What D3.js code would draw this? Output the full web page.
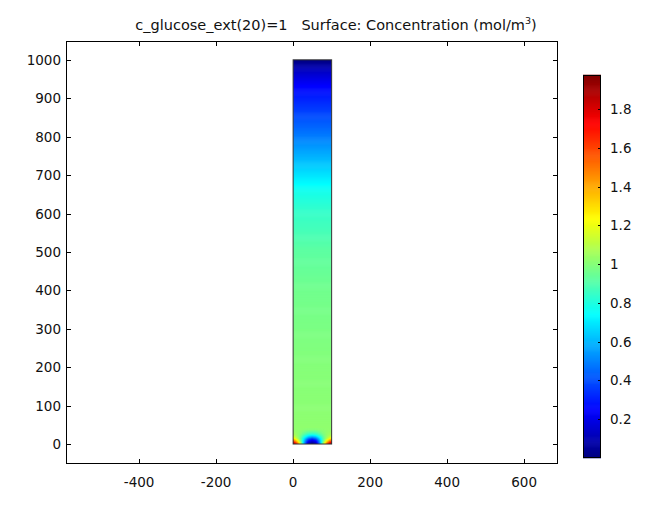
<!DOCTYPE html>
<html><head><meta charset="utf-8">
<script src="https://cdn.jsdelivr.net/npm/d3@7"></script>
<style>body{margin:0;background:#fff}svg{display:block}text{font-family:"DejaVu Sans",sans-serif;fill:#111}</style>
</head><body><svg id="c" width="657" height="511"></svg>
<script>
// ---- data ----
const titleLeft = "c_glucose_ext(20)=1";
const titleRight = "Surface: Concentration (mol/m";
const xTicks = [-400, -200, 0, 200, 400, 600];
const yTicks = [0, 100, 200, 300, 400, 500, 600, 700, 800, 900, 1000];
const cbTicks = [0.2, 0.4, 0.6, 0.8, 1, 1.2, 1.4, 1.6, 1.8];
const xDomain = [-590, 688];
const yDomain = [-52, 1049];
const cDomain = [0.0, 1.975];
const domainX = [0, 100];
const domainY = [0, 1000];
// vertical concentration profile (y in um, c in mol/m3), above the bottom zone
const profY = [40, 100, 200, 300, 400, 505, 550, 609, 650, 672, 700, 750, 800, 850, 900, 932, 950, 975, 990, 1000];
const profC = [1.02, 1.01, 1.0, 0.98, 0.96, 0.92, 0.88, 0.84, 0.79, 0.75, 0.69, 0.59, 0.49, 0.4, 0.31, 0.25, 0.2, 0.12, 0.05, 0.0];
// bottom zone grid (rows = gridY, columns = gridX)
const gridX = [0, 10, 20, 30, 40, 50, 60, 70, 80, 90, 100];
const gridY = [0, 5, 10, 15, 20, 25, 30, 40];
const gridC = [
  [1.95, 1.7, 1.15, 0.55, 0.12, 0.02, 0.12, 0.55, 1.15, 1.7, 1.95],
  [1.8, 1.5, 1.05, 0.55, 0.17, 0.08, 0.17, 0.55, 1.05, 1.5, 1.8],
  [1.55, 1.3, 0.97, 0.6, 0.28, 0.18, 0.28, 0.6, 0.97, 1.3, 1.55],
  [1.3, 1.13, 0.94, 0.68, 0.45, 0.35, 0.45, 0.68, 0.94, 1.13, 1.3],
  [1.15, 1.06, 0.95, 0.79, 0.64, 0.58, 0.64, 0.79, 0.95, 1.06, 1.15],
  [1.08, 1.04, 0.98, 0.88, 0.8, 0.77, 0.8, 0.88, 0.98, 1.04, 1.08],
  [1.05, 1.03, 1.0, 0.95, 0.9, 0.89, 0.9, 0.95, 1.0, 1.03, 1.05],
  [1.02, 1.02, 1.02, 1.02, 1.02, 1.02, 1.02, 1.02, 1.02, 1.02, 1.02]
];
const jetStops = [0, 0.125, 0.375, 0.625, 0.875, 1];
const jetColors = ["#00007f", "#0000ff", "#00ffff", "#ffff00", "#ff0000", "#7f0000"];

// ---- drawing ----
const svg = d3.select("#c");
const x = d3.scaleLinear().domain(xDomain).range([66, 558]);
const y = d3.scaleLinear().domain(yDomain).range([464, 41]);
const jet = d3.scaleLinear().domain(jetStops).range(jetColors).clamp(true);
const cNorm = d3.scaleLinear().domain(cDomain).range([0, 1]).clamp(true);
const color = v => jet(cNorm(v));

svg.append("defs").append("clipPath").attr("id", "bar")
  .append("rect").attr("x", x(domainX[0])).attr("y", y(domainY[1]))
  .attr("width", x(domainX[1]) - x(domainX[0])).attr("height", y(domainY[0]) - y(domainY[1]));
const field = svg.append("g").attr("clip-path", "url(#bar)");

// upper profile rows
const prof = d3.scaleLinear().domain(profY).range(profC);
const dyU = 2.5;
const rows = d3.range(40, 1000, dyU);
field.selectAll("rect.u").data(rows).join("rect").attr("class", "u")
  .attr("x", x(0)).attr("width", x(100) - x(0))
  .attr("y", d => y(d + dyU) - 0.3).attr("height", d => y(d) - y(d + dyU) + 0.6)
  .attr("fill", d => color(prof(d + dyU / 2)));

// bottom zone: bilinear interpolation of grid
function bil(px, py) {
  let i = d3.bisectRight(gridX, px) - 1; i = Math.max(0, Math.min(gridX.length - 2, i));
  let j = d3.bisectRight(gridY, py) - 1; j = Math.max(0, Math.min(gridY.length - 2, j));
  const tx = (px - gridX[i]) / (gridX[i + 1] - gridX[i]);
  const ty = (py - gridY[j]) / (gridY[j + 1] - gridY[j]);
  const a = gridC[j][i] * (1 - tx) + gridC[j][i + 1] * tx;
  const b = gridC[j + 1][i] * (1 - tx) + gridC[j + 1][i + 1] * tx;
  return a * (1 - ty) + b * ty;
}
const dc = 2;
const cells = [];
for (const cy of d3.range(0, 40, dc)) for (const cx of d3.range(0, 100, dc)) cells.push([cx, cy]);
field.selectAll("rect.b").data(cells).join("rect").attr("class", "b")
  .attr("x", d => x(d[0]) - 0.3).attr("width", d => x(d[0] + dc) - x(d[0]) + 0.6)
  .attr("y", d => y(d[1] + dc) - 0.3).attr("height", d => y(d[1]) - y(d[1] + dc) + 0.6)
  .attr("fill", d => color(bil(d[0] + dc / 2, d[1] + dc / 2)));

svg.append("rect").attr("x", x(0)).attr("y", y(1000))
  .attr("width", x(100) - x(0)).attr("height", y(0) - y(1000))
  .attr("fill", "none").attr("stroke", "#333").attr("stroke-width", 1);

// frame & axes
const fs = 13.5;
const frame = svg.append("g");
frame.append("rect").attr("x", 66.5).attr("y", 41.5).attr("width", 491).attr("height", 422)
  .attr("fill", "none").attr("stroke", "#000").attr("stroke-width", 1);
const tl = 5;
xTicks.forEach(t => {
  const px = Math.round(x(t)) + 0.5;
  frame.append("line").attr("x1", px).attr("x2", px).attr("y1", 464).attr("y2", 464 - tl).attr("stroke", "#000");
  frame.append("line").attr("x1", px).attr("x2", px).attr("y1", 41).attr("y2", 41 + tl).attr("stroke", "#000");
  frame.append("text").attr("x", x(t)).attr("y", 487).attr("text-anchor", "middle").attr("font-size", fs).text(t);
});
yTicks.forEach(t => {
  const py = Math.round(y(t)) + 0.5;
  frame.append("line").attr("x1", 66).attr("x2", 66 + tl).attr("y1", py).attr("y2", py).attr("stroke", "#000");
  frame.append("line").attr("x1", 558).attr("x2", 558 - tl).attr("y1", py).attr("y2", py).attr("stroke", "#000");
  frame.append("text").attr("x", 61).attr("y", y(t) + 5).attr("text-anchor", "end").attr("font-size", fs).text(t);
});

// title
const tt = svg.append("text").attr("x", 336).attr("y", 30).attr("text-anchor", "middle").attr("font-size", 14.5);
tt.append("tspan").text(titleLeft + "\u00a0\u00a0\u00a0" + titleRight);
tt.append("tspan").attr("font-size", 9.5).attr("dy", -6).text("3");
tt.append("tspan").attr("dy", 6).text(")");

// colorbar
const cb = d3.scaleLinear().domain(cDomain).range([458, 75]);
const cbX = 583, cbW = 18;
const steps = d3.range(cDomain[0], cDomain[1], 0.005);
svg.append("g").selectAll("rect").data(steps).join("rect")
  .attr("x", cbX).attr("width", cbW)
  .attr("y", d => cb(d + 0.005) - 0.3).attr("height", d => cb(d) - cb(d + 0.005) + 0.6)
  .attr("fill", d => color(d + 0.0025));
svg.append("rect").attr("x", cbX + 0.5).attr("y", 75.5).attr("width", cbW - 1).attr("height", 382)
  .attr("fill", "none").attr("stroke", "#000").attr("stroke-width", 1);
cbTicks.forEach(t => {
  const py = Math.round(cb(t)) + 0.5;
  svg.append("line").attr("x1", cbX + cbW - 3).attr("x2", cbX + cbW).attr("y1", py).attr("y2", py).attr("stroke", "#000");
  svg.append("text").attr("x", 610).attr("y", cb(t) + 5).attr("font-size", fs).text(t);
});
</script></body></html>
